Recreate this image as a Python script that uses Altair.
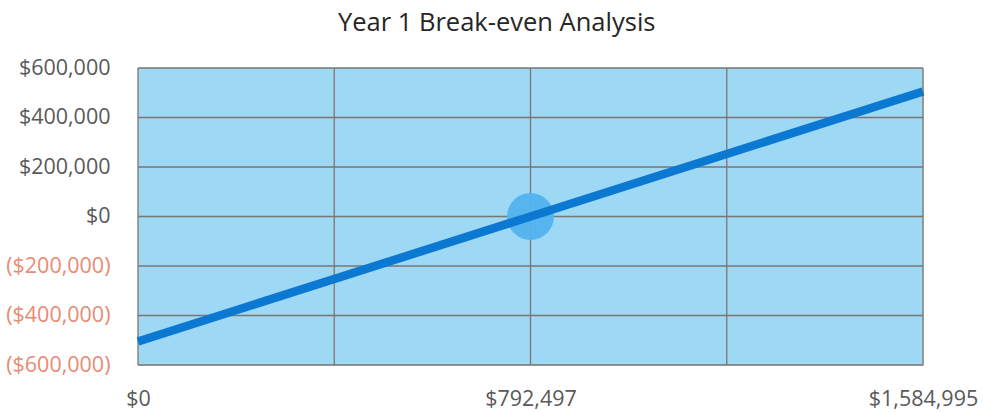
import altair as alt
import pandas as pd

# Break-even data: revenue on x, profit / loss on y
revenue = [0, 792497, 1584995]
profit = [-505000, 0, 505000]
breakeven_revenue = [792497]
breakeven_profit = [0]
x_ticks = [0, 792497, 1584995]
x_grid = [0, 396249, 792497, 1188746, 1584995]
y_ticks = [-600000, -400000, -200000, 0, 200000, 400000, 600000]
x_domain = [0, 1584995]
y_domain = [-600000, 600000]

FONT = "Open Sans"
GRID = "#7d7670"

line_df = pd.DataFrame({"revenue": revenue, "profit": profit})
point_df = pd.DataFrame({"revenue": breakeven_revenue, "profit": breakeven_profit})
vgrid_df = pd.DataFrame({"revenue": x_grid})
hgrid_df = pd.DataFrame({"profit": y_ticks})
panel_df = pd.DataFrame({"x0": [x_domain[0]], "x1": [x_domain[1]],
                         "y0": [y_domain[0]], "y1": [y_domain[1]]})

money = ("datum.value < 0 ? '($' + format(-datum.value, ',') + ')' "
         ": '$' + format(datum.value, ',')")

x_scale = alt.Scale(domain=x_domain, nice=False, zero=False)
y_scale = alt.Scale(domain=y_domain, nice=False)

x_axis = alt.Axis(
    values=x_ticks, labelExpr=money, grid=False, ticks=False, domain=False,
    title=None, labelFlush=False, labelPadding=23, labelFont=FONT,
    labelFontSize=21.5, labelColor="#595959",
)
y_axis = alt.Axis(
    values=y_ticks, labelExpr=money, grid=False, ticks=False, domain=False,
    title=None, labelPadding=28, labelFont=FONT, labelFontSize=21.5,
    labelColor={"condition": {"test": "datum.value < 0", "value": "#ea8a72"},
                "value": "#595959"},
)

# light blue plot panel
panel = alt.Chart(panel_df).mark_rect(color="#9dd8f5").encode(
    x=alt.X("x0:Q", scale=x_scale, axis=x_axis),
    x2="x1",
    y=alt.Y("y0:Q", scale=y_scale, axis=y_axis),
    y2="y1",
)

# grid lines and panel border on top of the fill
vgrid = alt.Chart(vgrid_df).mark_rule(color=GRID, strokeWidth=1.3).encode(
    x=alt.X("revenue:Q", scale=x_scale),
)
hgrid = alt.Chart(hgrid_df).mark_rule(color=GRID, strokeWidth=1.3).encode(
    y=alt.Y("profit:Q", scale=y_scale),
)

circle = alt.Chart(point_df).mark_circle(
    size=2200, color="#52b3ee", opacity=0.95
).encode(
    x=alt.X("revenue:Q", scale=x_scale),
    y=alt.Y("profit:Q", scale=y_scale),
)

line = alt.Chart(line_df).mark_line(
    color="#0b78d1", strokeWidth=8.5, strokeCap="butt"
).encode(
    x=alt.X("revenue:Q", scale=x_scale),
    y=alt.Y("profit:Q", scale=y_scale),
)

chart = (
    alt.layer(panel, vgrid, hgrid, circle, line)
    .properties(
        width=785,
        height=297,
        autosize=alt.AutoSizeParams(type="none"),
        padding={"left": 138, "top": 68, "right": 60, "bottom": 47},
        title=alt.TitleParams(
            "Year 1 Break-even Analysis", font=FONT, fontSize=25.5,
            fontWeight="normal", color="#262626", anchor="middle",
            frame="bounds", offset=21, dx=5,
        ),
    )
    .configure_view(strokeWidth=0)
    .configure(background="white")
)

chart.save("out.html", embed_options={"renderer": "svg", "actions": False})
